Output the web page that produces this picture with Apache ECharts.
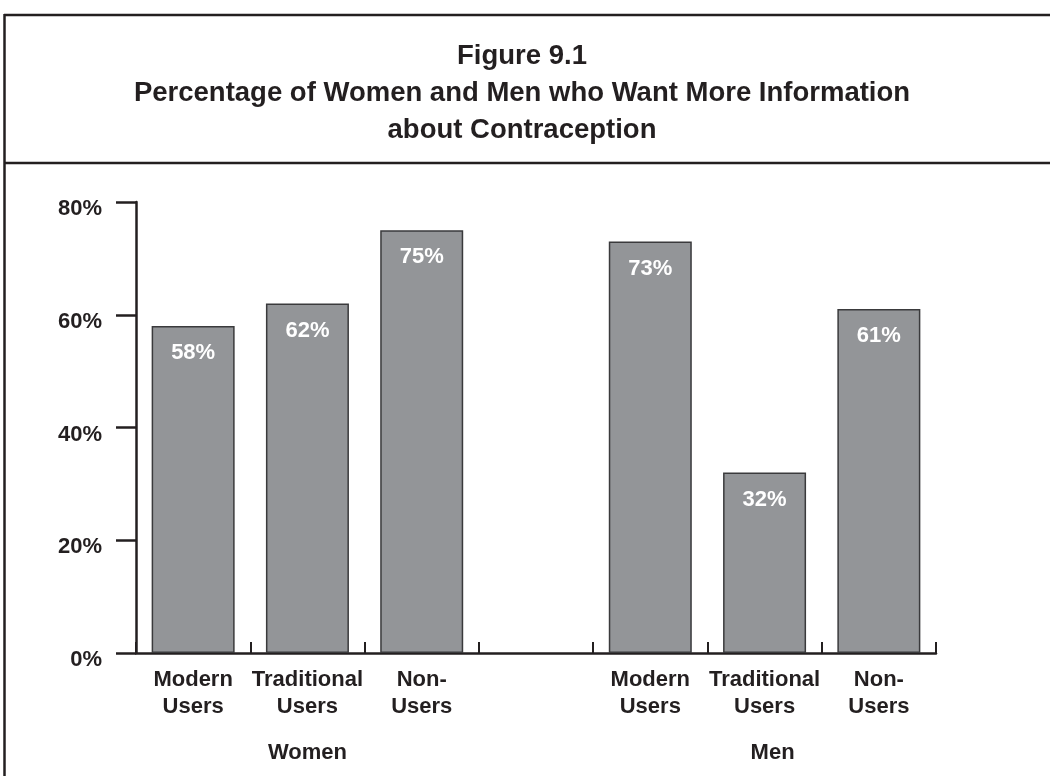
<!DOCTYPE html>
<html>
<head>
<meta charset="utf-8">
<script src="https://cdn.jsdelivr.net/npm/echarts@6/dist/echarts.min.js"></script>
<style>
  html, body { margin: 0; padding: 0; background: #ffffff; }
  #chart { width: 1050px; height: 776px; }
</style>
</head>
<body>
<div id="chart"></div>
<script>
// ---- data ----
var titleLines = ['Figure 9.1', 'Percentage of Women and Men who Want More Information', 'about Contraception'];
var categories = ['Modern\nUsers', 'Traditional\nUsers', 'Non-\nUsers', '', 'Modern\nUsers', 'Traditional\nUsers', 'Non-\nUsers'];
var groupLabels = ['', 'Women', '', '', '', 'Men', ''];
var womenValues = [58, 62, 75];
var menValues = [73, 32, 61];
var yTicks = [0, 20, 40, 60, 80];

// ---- chart ----
var ink = '#231f20';
var font = 'Liberation Sans, Arial, sans-serif';
var barValues = womenValues.concat([null]).concat(menValues);

var chart = echarts.init(document.getElementById('chart'), null, { renderer: 'canvas' });
chart.setOption({
  animation: false,
  backgroundColor: '#ffffff',
  title: {
    text: titleLines.join('\n'),
    left: 517,
    top: 33,
    textAlign: 'center',
    textStyle: { fontFamily: font, fontWeight: 'bold', fontSize: 27.5, lineHeight: 37, color: ink }
  },
  graphic: [
    { type: 'line', shape: { x1: 4, y1: 15, x2: 1050, y2: 15 }, style: { stroke: ink, lineWidth: 2.5 } },
    { type: 'line', shape: { x1: 4, y1: 163, x2: 1050, y2: 163 }, style: { stroke: ink, lineWidth: 2.5 } },
    { type: 'line', shape: { x1: 4.5, y1: 14, x2: 4.5, y2: 776 }, style: { stroke: ink, lineWidth: 2.5 } }
  ],
  grid: { left: 136, right: 114, top: 202, bottom: 123, containLabel: false },
  xAxis: [
    {
      type: 'category',
      data: categories,
      position: 'bottom',
      boundaryGap: true,
      axisLine: { show: true, lineStyle: { color: ink, width: 2.5 } },
      axisTick: { show: true, inside: true, length: 11, alignWithLabel: false, lineStyle: { color: ink, width: 2 } },
      axisLabel: { interval: 0, margin: 13, color: ink, fontFamily: font, fontWeight: 'bold', fontSize: 22, lineHeight: 27 },
      splitLine: { show: false }
    },
    {
      type: 'category',
      data: groupLabels.map(function (g) {
        return g === 'Men' ? { value: g, textStyle: { padding: [0, 0, 0, 16] } } : g;
      }),
      position: 'bottom',
      boundaryGap: true,
      axisLine: { show: false },
      axisTick: { show: false },
      axisLabel: { interval: 0, margin: 86, color: ink, fontFamily: font, fontWeight: 'bold', fontSize: 22, lineHeight: 27 },
      splitLine: { show: false }
    }
  ],
  yAxis: {
    type: 'value',
    min: yTicks[0],
    max: yTicks[yTicks.length - 1],
    interval: 20,
    axisLine: { show: true, lineStyle: { color: ink, width: 2.5 } },
    axisTick: { show: true, inside: false, length: 20, lineStyle: { color: ink, width: 2.5 } },
    axisLabel: {
      formatter: function (v) { return '{a|' + v + '%}'; },
      margin: 34,
      rich: {
        a: { color: ink, fontFamily: font, fontWeight: 'bold', fontSize: 22, lineHeight: 22, padding: [14, 0, 0, 0] }
      }
    },
    splitLine: { show: false }
  },
  series: [
    {
      type: 'bar',
      xAxisIndex: 0,
      data: barValues,
      barWidth: 83,
      itemStyle: { color: '#939598', borderColor: '#3a3a3c', borderWidth: 1.5 },
      label: {
        show: true,
        position: 'insideTop',
        distance: 16,
        formatter: '{c}%',
        color: '#ffffff',
        fontFamily: font,
        fontWeight: 'bold',
        fontSize: 22,
        lineHeight: 22
      }
    }
  ]
});
</script>
</body>
</html>
